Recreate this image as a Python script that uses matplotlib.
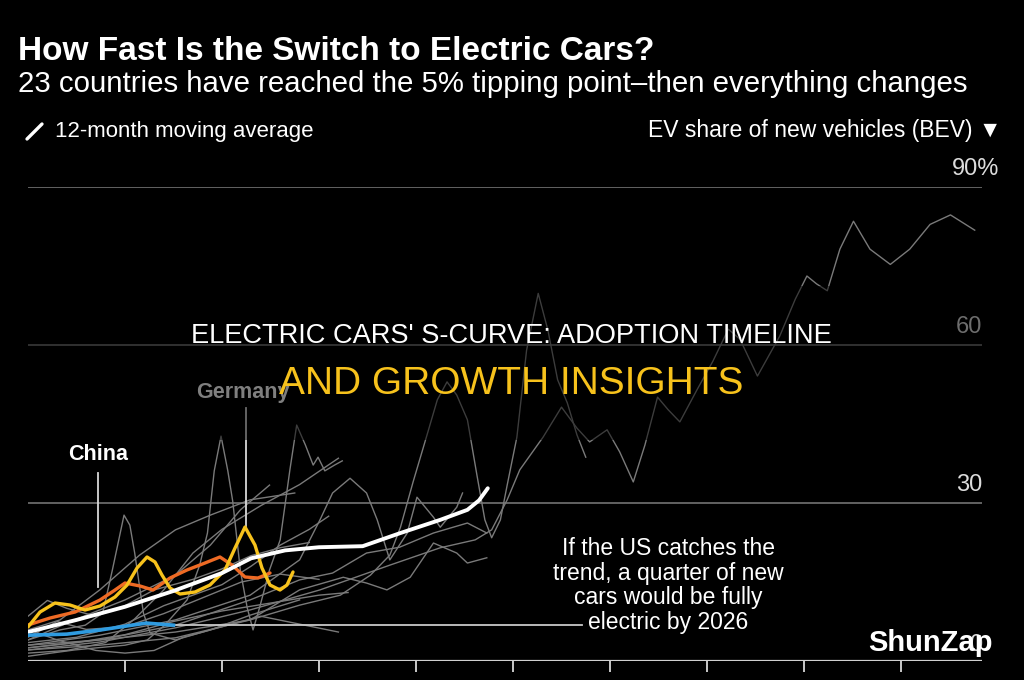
import matplotlib
matplotlib.use("Agg")
import matplotlib.pyplot as plt
from matplotlib.lines import Line2D
from matplotlib.patches import Rectangle

# ---------------- data (x = years since tipping point, y = EV share %) ----------------
norway_x = [0, 0.74, 1.52, 2.29, 3.01, 3.73, 4.25, 4.61, 4.78, 4.94, 5.07, 5.31, 5.50, 5.66, 5.79, 5.97,
            6.10, 6.24, 6.36, 6.49, 6.60, 6.72, 6.90, 7.06, 7.22, 7.34, 7.52, 7.75, 7.91, 8.03, 8.13,
            8.24, 8.37, 8.51, 8.68, 8.89, 9.09, 9.30, 9.51, 9.76]
norway_y = [2.1, 3.6, 6.3, 9.7, 13.5, 18.2, 21.5, 23.0, 24.9, 30.6, 36.3, 42.5, 48.2, 44.2, 41.6, 43.9,
            39.7, 34.0, 41.0, 50.1, 47.7, 45.4, 51.6, 56.9, 63.0, 61.1, 54.1, 61.7, 68.7, 73.1, 71.6,
            70.3, 78.2, 83.5, 78.2, 75.3, 78.2, 82.9, 84.7, 81.8]

spike70_x = [0, 0.74, 1.52, 2.29, 2.80, 3.22, 3.53, 3.73, 3.84, 3.97, 4.11, 4.22, 4.32, 4.42, 4.53,
             4.63, 4.71, 4.78, 4.87, 4.94, 5.04, 5.14, 5.26, 5.36, 5.46, 5.56, 5.66, 5.75]
spike70_y = [3.0, 4.0, 5.5, 7.8, 10.6, 12.5, 16.3, 20.1, 25.4, 34.0, 42.7, 49.6, 53.0, 50.5, 45.8,
             35.1, 26.8, 23.4, 26.8, 33.4, 42.5, 59.0, 69.8, 62.8, 53.4, 49.0, 42.9, 38.7]

spike43_x = [0, 0.48, 1.0, 1.23, 1.41, 1.64, 1.77, 1.85, 1.92, 1.99, 2.06, 2.11, 2.19, 2.26, 2.32,
             2.39, 2.49, 2.60, 2.70, 2.77, 2.86, 2.94, 2.99, 3.06, 3.16, 3.24]
spike43_y = [0.9, 2.1, 3.0, 4.0, 6.8, 11.6, 18.2, 24.3, 36.1, 42.7, 36.1, 30.4, 17.1, 10.1, 5.9,
             10.3, 17.3, 23.0, 36.3, 44.8, 41.0, 37.2, 38.7, 36.1, 37.2, 38.0]

spike28_x = [0, 0.33, 0.59, 0.77, 0.87, 0.99, 1.05, 1.10, 1.19, 1.26, 1.52, 1.88, 2.29, 2.80]
spike28_y = [4.0, 5.9, 6.8, 9.1, 17.3, 27.7, 25.8, 20.5, 9.1, 5.3, 4.0, 5.9, 8.7, 11.6]

grayA_x = [0, 0.48, 1.0, 1.52, 1.88, 2.19, 2.49]
grayA_y = [4.0, 7.8, 11.6, 16.3, 22.0, 28.7, 33.4]

grayB_x = [0, 0.33, 0.74, 1.15, 1.52, 1.88, 2.29, 2.75]
grayB_y = [5.9, 7.8, 13.5, 20.1, 24.9, 27.7, 30.6, 31.9]

grayE_x = [0, 0.74, 1.52, 2.29, 2.80, 3.01, 3.14, 3.32, 3.49, 3.60, 3.73, 3.91, 4.01, 4.18, 4.25, 4.42, 4.48]
grayE_y = [3.0, 4.9, 7.8, 12.5, 19.2, 26.8, 31.9, 34.7, 31.9, 26.8, 19.2, 24.3, 31.1, 27.3, 25.4, 29.2, 31.9]

grayF_x = [0, 0.74, 1.52, 2.29, 2.80, 3.25, 3.49, 3.70, 3.94, 4.18, 4.42, 4.53, 4.73]
grayF_y = [2.1, 3.0, 4.4, 7.8, 13.5, 15.9, 14.8, 13.5, 15.9, 22.4, 20.5, 18.6, 19.6]

grayG_x = [0, 0.74, 1.52, 2.29, 2.80, 3.14, 3.49, 3.83, 4.18, 4.53, 4.73]
grayG_y = [2.5, 4.0, 6.8, 11.6, 15.4, 16.7, 20.5, 21.6, 24.3, 26.2, 24.3]

grayH_x = [0, 0.5, 1.0, 1.5, 2.0, 2.5, 3.0, 3.3]
grayH_y = [2.5, 3.5, 5.0, 7.5, 9.5, 11.0, 12.5, 13.0]

grayI_x = [0, 0.3, 0.6, 1.0, 1.4, 1.8, 2.2, 2.6, 3.0]
grayI_y = [4.5, 7.5, 6.0, 6.5, 9.0, 12.0, 15.0, 16.5, 15.5]

grayJ_x = [0, 0.3, 0.7, 1.0, 1.3, 1.6, 2.0, 2.4, 2.8, 3.2]
grayJ_y = [6.0, 4.0, 2.0, 1.5, 2.0, 4.5, 6.5, 8.5, 7.0, 5.5]

grayK_x = [0, 0.2, 0.4, 0.7, 1.0, 1.3, 1.7, 2.0, 2.3, 2.6, 2.9]
grayK_y = [8.5, 11.5, 10.0, 8.5, 10.5, 13.5, 15.5, 17.5, 20.0, 21.5, 22.5]

grayL_x = [0, 0.5, 1.0, 1.4, 1.7, 2.0, 2.3, 2.6, 2.9, 3.1]
grayL_y = [3.5, 4.5, 7.0, 10.5, 12.5, 14.5, 18.0, 22.0, 25.0, 27.5]

grayM_x = [0, 0.4, 0.8, 1.1, 1.4, 1.7, 2.0, 2.4, 2.8, 3.0, 3.2]
grayM_y = [1.5, 2.0, 3.5, 8.0, 13.5, 20.5, 25.0, 29.5, 33.5, 36.0, 38.5]

gray_x = [norway_x, spike70_x, spike43_x, spike28_x, grayA_x, grayB_x, grayE_x, grayF_x,
          grayG_x, grayH_x, grayI_x, grayJ_x, grayK_x, grayL_x, grayM_x]
gray_y = [norway_y, spike70_y, spike43_y, spike28_y, grayA_y, grayB_y, grayE_y, grayF_y,
          grayG_y, grayH_y, grayI_y, grayJ_y, grayK_y, grayL_y, grayM_y]

germany_x = [0, 0.124, 0.278, 0.433, 0.588, 0.742, 0.897, 1.021, 1.124, 1.227, 1.309, 1.381, 1.464,
             1.567, 1.722, 1.876, 2.031, 2.134, 2.237, 2.340, 2.412, 2.495, 2.598, 2.670, 2.732]
germany_y = [6.46, 9.30, 11.01, 10.63, 9.68, 10.44, 12.15, 14.43, 17.66, 19.75, 18.80, 16.33, 13.86,
             12.72, 13.10, 14.43, 17.28, 21.45, 25.44, 22.02, 17.66, 14.43, 13.48, 14.43, 16.90]

china_x = [0, 0.227, 0.485, 0.742, 0.897, 1.0, 1.155, 1.289, 1.464, 1.639, 1.825, 1.979, 2.103,
           2.237, 2.371, 2.495]
china_y = [6.84, 8.16, 9.30, 11.58, 13.48, 14.81, 14.24, 13.48, 15.76, 17.28, 18.61, 19.75, 18.23,
           15.95, 15.76, 16.71]

avg_x = [0, 0.5, 1.0, 1.5, 2.0, 2.3, 2.65, 3.0, 3.45, 3.84, 4.25, 4.53, 4.65, 4.74]
avg_y = [5.5, 7.8, 10.3, 13.3, 16.7, 19.5, 21.0, 21.6, 21.8, 24.3, 26.8, 28.7, 30.5, 32.8]

us_x = [0, 0.4, 0.75, 1.0, 1.22, 1.5]
us_y = [4.9, 5.1, 5.9, 6.6, 7.2, 6.8]

grid_values = [30, 60, 90]
grid_labels = ["30", "60", "90%"]
year_ticks = [1, 2, 3, 4, 5, 6, 7, 8, 9]

# ---------------- figure ----------------
W, H = 1024, 680
fig = plt.figure(figsize=(W / 100, H / 100), dpi=100, facecolor="black")

def fx(px):
    return px / W

def fy(py):
    return 1 - py / H

ax = fig.add_axes([fx(28), fy(661), fx(982) - fx(28), fy(187) - fy(661)])
ax.set_facecolor("black")
ax.set_xlim(0, (982 - 28) / 97)
ax.set_ylim(0, 90)
for s in ax.spines.values():
    s.set_visible(False)
ax.set_yticks([])
ax.set_xticks(year_ticks)
ax.set_xticklabels([])
ax.tick_params(axis="x", direction="out", length=8, width=1.4, color="#c8c8c8")

for g in grid_values:
    ax.axhline(g, color="#6a6a6a", lw=1.3, zorder=1)
ax.axhline(0, color="#d0d0d0", lw=1.6, zorder=1)

for xs, ys in zip(gray_x, gray_y):
    ax.plot(xs, ys, color="#7a7a7a", lw=1.0, zorder=2, solid_joinstyle="round")

ax.plot(china_x, china_y, color="#ee6a24", lw=2.4, zorder=4, solid_joinstyle="round", solid_capstyle="round")
ax.plot(germany_x, germany_y, color="#f7c21c", lw=2.4, zorder=4, solid_joinstyle="round", solid_capstyle="round")
ax.plot(avg_x, avg_y, color="white", lw=2.8, zorder=5, solid_joinstyle="round", solid_capstyle="round")
ax.plot(us_x, us_y, color="#2f9be0", lw=2.6, zorder=6, solid_joinstyle="round")

# annotation connector
ax.plot([us_x[-1] + 0.03, 5.71], [us_y[-1], us_y[-1]], color="#c8c8c8", lw=1.3, zorder=3)

# leaders
ax.plot([0.72, 0.72], [14.0, 35.7], color="#d8d8d8", lw=1.3, zorder=3)
ax.plot([2.25, 2.25], [25.6, 48.0], color="#d8d8d8", lw=1.3, zorder=3)

sans = ["Liberation Sans", "DejaVu Sans"]
ax.text(0.72, 38.2, "China", color="white", fontsize=15.5, fontweight="bold", family=sans,
        ha="center", va="baseline", zorder=7)
ax.text(2.22, 50.0, "Germany", color="white", fontsize=15.5, fontweight="bold", family=sans,
        ha="center", va="baseline", zorder=7)

ax.text(6.6, 23.6, "If the US catches the\ntrend, a quarter of new\ncars would be fully\nelectric by 2026",
        color="white", fontsize=16.5, family=sans, ha="center", va="top", linespacing=1.1, zorder=7)

# right grid labels (above their gridlines)
px_per_pct = (661 - 187) / 90
for g, lab in zip(grid_values, grid_labels):
    base = 661 - g * px_per_pct - 12
    if lab.endswith("%"):
        fig.text(fx(952), fy(base), lab, color="#dcdcdc", fontsize=17, family=sans, ha="left", va="baseline")
    else:
        fig.text(fx(982), fy(base), lab, color="#dcdcdc", fontsize=17, family=sans, ha="right", va="baseline")
fig.text(fx(982), fy(651), "0", color="#dcdcdc", fontsize=17, family=sans, ha="right", va="baseline")

# header
fig.text(fx(18), fy(60), "How Fast Is the Switch to Electric Cars?", color="white", fontsize=24,
         fontweight="bold", family=sans, va="baseline")
fig.text(fx(18), fy(92), "23 countries have reached the 5% tipping point\u2013then everything changes",
         color="white", fontsize=21.2, family=sans, va="baseline")
fig.add_artist(Line2D([fx(27), fx(42)], [fy(139), fy(124)], color="white", lw=2.4, solid_capstyle="round"))
fig.text(fx(55), fy(137), "12-month moving average", color="white", fontsize=16, family=sans, va="baseline")
fig.text(fx(1001), fy(137), "EV share of new vehicles (BEV) \u25BC", color="white", fontsize=16.5,
         family=sans, ha="right", va="baseline")

# overlay band + headline
band = Rectangle((0, fy(440)), 1, (440 - 286) / H, transform=fig.transFigure, facecolor="black",
                 alpha=0.5, edgecolor="none", zorder=50)
fig.add_artist(band)
fig.text(fx(511), fy(343), "ELECTRIC CARS' S-CURVE: ADOPTION TIMELINE", color="white", fontsize=19.6,
         family=sans, ha="center", va="baseline", zorder=60)
fig.text(fx(511), fy(394), "AND GROWTH INSIGHTS", color="#f7c21c", fontsize=28,
         family=sans, ha="center", va="baseline", zorder=60)

# watermark
fig.text(fx(930), fy(643), "ShunZap", color="white", fontsize=21, fontweight="bold", family=sans,
         ha="center", va="center", zorder=61)

fig.savefig("out.png", dpi=100, facecolor="black")
